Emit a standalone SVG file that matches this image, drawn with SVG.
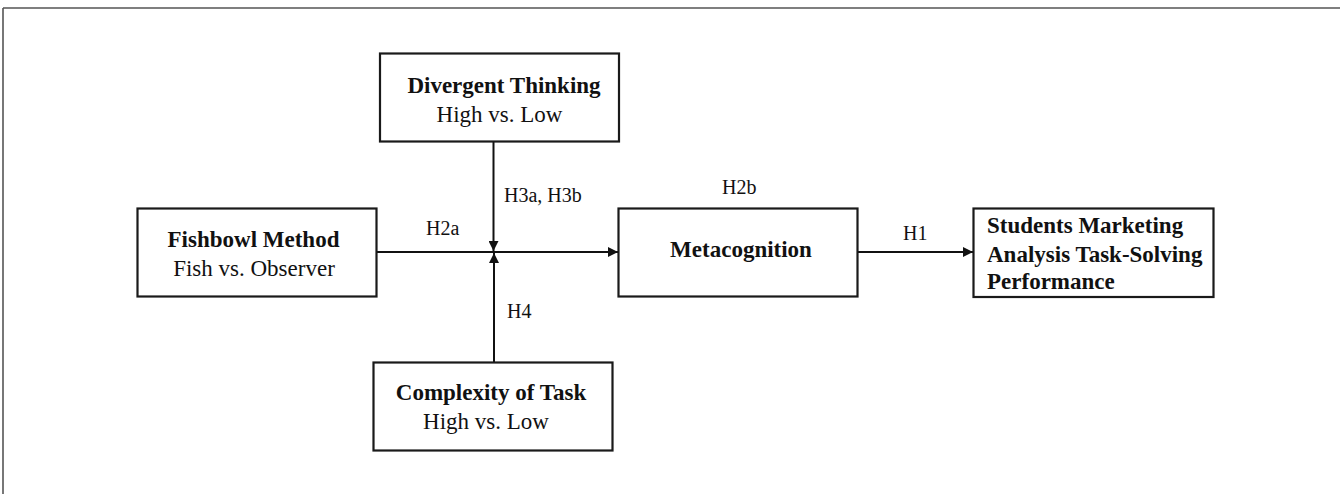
<svg xmlns="http://www.w3.org/2000/svg" width="1340" height="494" viewBox="0 0 1340 494">
<style>
.box{fill:#fff;stroke:#1a1a1a;stroke-width:2.2}
.b{font-family:"Liberation Serif","Times New Roman",serif;font-size:23px;font-weight:bold;fill:#111}
.r{font-family:"Liberation Serif","Times New Roman",serif;font-size:23px;fill:#111}
.lbl{font-family:"Liberation Serif","Times New Roman",serif;font-size:20px;fill:#111}
.edge{stroke:#111;stroke-width:2;fill:none;marker-end:url(#ah)}
</style>
<defs>
<marker id="ah" markerUnits="userSpaceOnUse" markerWidth="12" markerHeight="10" refX="10" refY="5" orient="auto">
<path d="M0,0 L10,5 L0,10 Z" fill="#111"/>
</marker>
</defs>
<rect width="1340" height="494" fill="#fff"/>
<g id="frame">
<line x1="3" y1="8" x2="1340" y2="8" stroke="#555" stroke-width="1.6"/>
<line x1="3" y1="8" x2="3" y2="494" stroke="#555" stroke-width="1.6"/>
</g>
<g id="connectors">
<line class="edge" x1="377" y1="252" x2="618" y2="252"/>
<line class="edge" x1="493.5" y1="142" x2="493.5" y2="251"/>
<line class="edge" x1="494" y1="362" x2="494" y2="253"/>
<line class="edge" x1="858" y1="252" x2="973" y2="252"/>
<text class="lbl" x="426" y="235">H2a</text>
<text class="lbl" x="504" y="202">H3a, H3b</text>
<text class="lbl" x="507" y="318">H4</text>
<text class="lbl" x="722" y="194">H2b</text>
<text class="lbl" x="903" y="240">H1</text>
</g>
<g id="divergent">
<rect class="box" x="380" y="53.5" width="239" height="88"/>
<text class="b" x="504" y="92.5" text-anchor="middle">Divergent Thinking</text>
<text class="r" x="499.5" y="122" text-anchor="middle">High vs. Low</text>
</g>
<g id="fishbowl">
<rect class="box" x="137.5" y="208.5" width="239" height="88"/>
<text class="b" x="253.5" y="246.5" text-anchor="middle">Fishbowl Method</text>
<text class="r" x="254" y="276" text-anchor="middle">Fish vs. Observer</text>
</g>
<g id="metacognition">
<rect class="box" x="618.5" y="208.5" width="239" height="88"/>
<text class="b" x="741" y="256.5" text-anchor="middle">Metacognition</text>
</g>
<g id="performance">
<rect class="box" x="973.5" y="208.5" width="240" height="88.5"/>
<text class="b" x="987" y="232.5">Students Marketing</text>
<text class="b" x="987" y="261.5">Analysis Task-Solving</text>
<text class="b" x="987" y="288.5">Performance</text>
</g>
<g id="complexity">
<rect class="box" x="373.5" y="362.5" width="239" height="88"/>
<text class="b" x="491" y="400" text-anchor="middle">Complexity of Task</text>
<text class="r" x="486" y="429" text-anchor="middle">High vs. Low</text>
</g>
</svg>
